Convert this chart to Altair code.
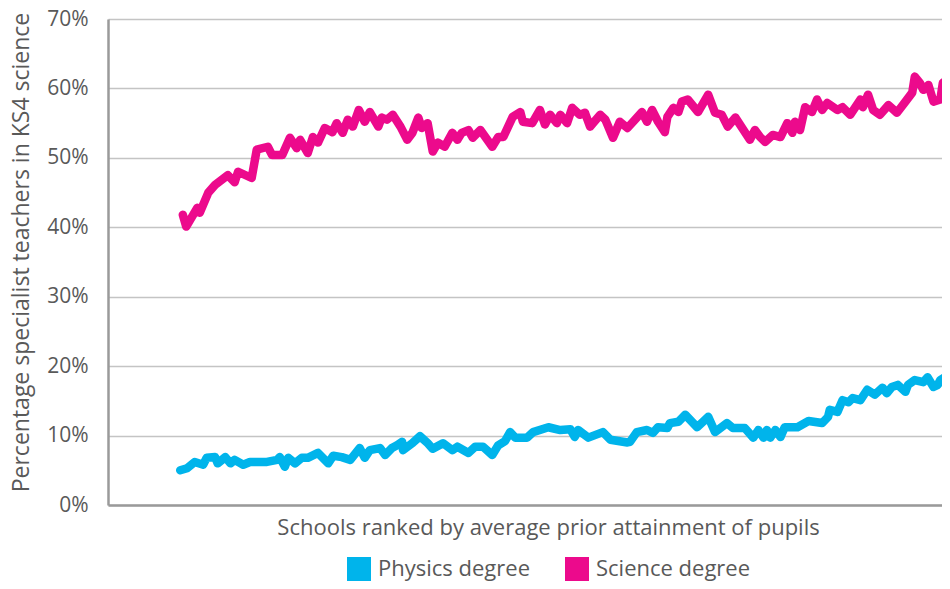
import altair as alt
import pandas as pd

# School rank (percentile of prior attainment, low -> high) and percentage of teachers
physics_rank = [8.5, 9.3, 10.2, 11.2, 11.6, 12.6, 12.9, 13.8, 14.4, 14.9, 15.9, 16.7, 18.7, 19.9, 20.2,
                20.8, 21.2, 22.0, 22.8, 23.5, 24.7, 25.9, 26.5, 27.5, 28.5, 29.6, 30.2, 30.8, 32.0, 32.6,
                33.4, 34.0, 34.6, 34.7, 35.8, 36.7, 37.6, 38.2, 39.4, 40.5, 41.1, 42.4, 43.2, 44.1, 45.2,
                45.9, 46.7, 47.3, 47.9, 49.3, 50.0, 51.8, 53.2, 54.4, 54.9, 55.3, 56.5, 58.2, 59.1, 61.1,
                61.4, 62.2, 63.4, 64.1, 64.7, 65.8, 66.1, 67.1, 67.9, 69.3, 70.6, 71.4, 72.8, 73.5, 74.9,
                75.9, 76.5, 77.1, 77.5, 77.9, 78.5, 79.1, 79.6, 81.1, 82.4, 84.0, 84.7, 84.9, 85.8, 86.4,
                87.1, 87.6, 88.5, 89.3, 90.2, 91.1, 91.6, 92.2, 92.9, 93.8, 94.1, 94.9, 95.9, 96.4, 97.1,
                97.6, 97.9, 98.8]
physics_pct = [5.0, 5.3, 6.2, 5.8, 6.8, 6.9, 6.0, 6.9, 6.0, 6.5, 5.8, 6.2, 6.2, 6.5, 6.9,
               5.5, 6.8, 6.0, 6.8, 6.8, 7.5, 6.0, 7.1, 6.9, 6.5, 8.2, 6.8, 7.9, 8.2, 7.2,
               8.2, 8.6, 9.1, 7.9, 8.9, 9.9, 8.9, 8.1, 8.9, 7.9, 8.4, 7.5, 8.4, 8.4, 7.2,
               8.6, 9.2, 10.5, 9.7, 9.7, 10.5, 11.2, 10.8, 10.9, 9.8, 10.8, 9.7, 10.5, 9.4, 9.0,
               9.1, 10.5, 10.8, 10.4, 11.2, 11.1, 11.8, 12.0, 13.0, 11.2, 12.7, 10.5, 11.8, 11.1, 11.1,
               9.7, 10.8, 9.7, 10.8, 9.7, 10.8, 9.8, 11.2, 11.2, 12.1, 11.8, 12.7, 13.7, 13.4, 15.1,
               14.8, 15.4, 15.1, 16.6, 15.9, 16.9, 16.1, 17.0, 17.3, 16.3, 17.3, 18.0, 17.7, 18.4, 17.0,
               17.3, 18.0, 18.7]

science_rank = [8.8, 9.2, 10.5, 10.8, 11.8, 12.6, 14.1, 14.9, 15.3, 16.9, 17.5, 18.8, 19.3, 20.5, 21.4,
                22.2, 22.6, 23.5, 24.1, 24.7, 25.5, 26.4, 26.9, 27.6, 28.2, 28.8, 29.5, 30.2, 30.8, 31.8,
                32.2, 32.8, 33.5, 34.4, 35.2, 35.8, 36.5, 36.9, 37.6, 38.2, 38.8, 39.6, 40.5, 41.1, 41.6,
                42.4, 42.9, 43.8, 45.2, 45.9, 46.5, 47.6, 48.5, 48.8, 49.9, 50.8, 51.4, 52.0, 52.8, 53.2,
                54.0, 54.6, 55.5, 56.1, 56.7, 57.9, 58.5, 59.4, 60.2, 61.1, 62.8, 63.4, 64.0, 64.7, 65.5,
                65.8, 66.5, 67.1, 67.5, 68.2, 69.4, 70.6, 71.4, 72.2, 72.9, 73.8, 75.5, 76.1, 76.7, 77.3,
                78.2, 79.1, 79.9, 80.5, 80.8, 81.4, 82.0, 82.8, 83.4, 84.0, 84.6, 85.8, 86.4, 87.3, 88.5,
                88.8, 89.4, 90.0, 90.8, 91.8, 92.8, 93.8, 94.6, 94.9, 95.5, 95.9, 96.5, 97.1, 97.9, 98.2,
                98.7, 98.8, 99.1]
science_pct = [41.8, 40.1, 42.8, 42.1, 45.0, 46.1, 47.5, 46.5, 48.0, 47.1, 51.2, 51.6, 50.4, 50.4, 52.9,
               51.4, 52.6, 50.7, 53.0, 52.2, 54.3, 53.7, 55.0, 53.6, 55.5, 54.5, 56.9, 55.2, 56.6, 54.5,
               55.8, 55.5, 56.2, 54.5, 52.6, 53.6, 55.8, 54.3, 55.0, 50.9, 52.2, 51.6, 53.6, 52.6, 53.6,
               54.0, 52.9, 54.0, 51.6, 53.0, 53.0, 55.9, 56.6, 55.2, 55.0, 56.9, 54.8, 56.2, 55.0, 56.2,
               55.0, 57.2, 56.2, 56.5, 54.5, 56.2, 55.5, 52.9, 55.2, 54.3, 56.6, 55.2, 56.9, 55.2, 53.7,
               55.9, 57.2, 56.6, 58.1, 58.4, 56.6, 59.1, 56.5, 56.2, 54.5, 55.8, 52.6, 54.0, 53.0, 52.3,
               53.3, 53.0, 55.0, 53.6, 55.2, 54.0, 57.3, 56.6, 58.4, 56.9, 57.9, 56.9, 57.3, 56.2, 58.4,
               57.3, 59.1, 56.9, 56.2, 57.6, 56.5, 58.1, 59.4, 61.7, 60.8, 59.8, 60.5, 58.1, 58.4, 60.8,
               61.2, 63.1, 62.5]

series_names = ["Physics degree", "Science degree"]
series_colors = ["#00B4EB", "#EC0A8C"]
y_ticks = [0, 10, 20, 30, 40, 50, 60, 70]

df = pd.concat([
    pd.DataFrame({"rank": physics_rank, "pct": physics_pct, "series": series_names[0]}),
    pd.DataFrame({"rank": science_rank, "pct": science_pct, "series": series_names[1]}),
])

FONT = "Open Sans"
TXT = "#595959"

chart = alt.Chart(df).mark_line(
    strokeWidth=8.5, strokeCap="round", strokeJoin="round", clip=True
).encode(
    x=alt.X("rank:Q",
            scale=alt.Scale(domain=[0, 98.1], nice=False, zero=False),
            axis=alt.Axis(title="Schools ranked by average prior attainment of pupils",
                          labels=False, ticks=False, grid=False,
                          domainColor="#9a9a9a", domainWidth=2.5,
                          titleFont=FONT, titleFontSize=22, titleFontWeight="normal",
                          titleColor=TXT, titlePadding=12, titleX=440)),
    y=alt.Y("pct:Q",
            scale=alt.Scale(domain=[0, 70], nice=False),
            axis=alt.Axis(title="Percentage specialist teachers in KS4 science",
                          values=y_ticks, labelExpr="datum.value + '%'",
                          ticks=False, grid=True, gridColor="#c4c4c4", gridWidth=1.5,
                          domainColor="#9a9a9a", domainWidth=2.5,
                          labelFont=FONT, labelFontSize=21, labelColor=TXT, labelPadding=20,
                          titleFont=FONT, titleFontSize=23, titleFontWeight="normal",
                          titleColor=TXT, titleX=-80, titleY=233,
                          titleBaseline="alphabetic", titleAngle=270)),
    color=alt.Color("series:N",
                    scale=alt.Scale(domain=series_names, range=series_colors),
                    legend=alt.Legend(title=None, orient="none", legendX=239, legendY=538,
                                      direction="horizontal", symbolType="square",
                                      symbolSize=100, symbolStrokeWidth=14, symbolOpacity=1,
                                      labelFont=FONT, labelFontSize=22, labelColor=TXT,
                                      columnPadding=14, labelOffset=7)),
).properties(
    width=834, height=486,
    autosize="none",
    padding={"left": 100, "top": 11, "right": 0, "bottom": 76},
).configure_view(stroke=None)

chart.save("out.html", embed_options={"renderer": "svg", "actions": False})
